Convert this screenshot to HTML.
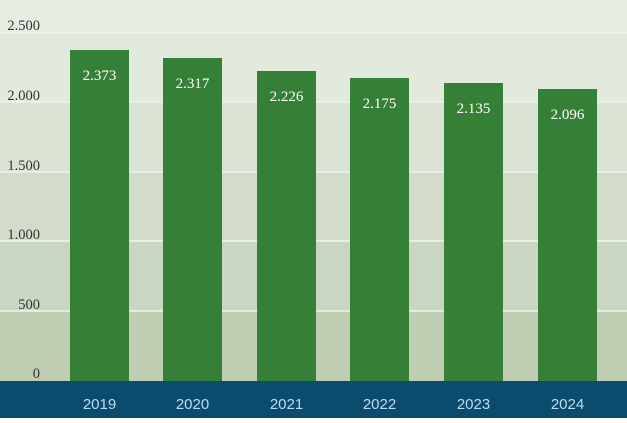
<!DOCTYPE html><html><head><style>body{margin:0}</style></head><body>
<svg width="627" height="418" xmlns="http://www.w3.org/2000/svg" font-family="Liberation Serif, serif">
<rect x="0" y="0" width="627" height="33" fill="#e8ede4"/>
<rect x="0" y="33" width="627" height="69" fill="#e2e9dd"/>
<rect x="0" y="102" width="627" height="70" fill="#dbe3d4"/>
<rect x="0" y="172" width="627" height="69" fill="#d3dccb"/>
<rect x="0" y="241" width="627" height="70" fill="#cbd6c2"/>
<rect x="0" y="311" width="627" height="70" fill="#bfcdb2"/>
<g stroke="#f0f3ec" stroke-width="1.5">
<line x1="0" x2="627" y1="33" y2="33"/><line x1="0" x2="627" y1="102" y2="102"/><line x1="0" x2="627" y1="172" y2="172"/><line x1="0" x2="627" y1="241" y2="241"/><line x1="0" x2="627" y1="311" y2="311"/></g>
<g font-size="14.5" fill="#333" text-anchor="end">
<text x="40" y="30">2.500</text><text x="40" y="100">2.000</text><text x="40" y="170">1.500</text><text x="40" y="239">1.000</text><text x="40" y="309">500</text><text x="40" y="378">0</text></g>
<g fill="#367f37">
<rect x="70" y="50" width="59" height="331"/><rect x="163" y="58" width="59" height="323"/><rect x="257" y="71" width="59" height="310"/><rect x="350" y="78" width="59" height="303"/><rect x="444" y="83" width="59" height="298"/><rect x="538" y="89" width="59" height="292"/></g>
<g font-size="15" fill="#fff" text-anchor="middle">
<text x="99.5" y="80">2.373</text><text x="192.5" y="88">2.317</text><text x="286.5" y="101">2.226</text><text x="379.5" y="108">2.175</text><text x="473.5" y="113">2.135</text><text x="567.5" y="119">2.096</text></g>
<rect x="0" y="381" width="627" height="37" fill="#0b4b6e"/>
<g font-size="15" fill="#b9dcef" text-anchor="middle" font-family="Liberation Sans, sans-serif">
<text x="99.5" y="409">2019</text><text x="192.5" y="409">2020</text><text x="286.5" y="409">2021</text><text x="379.5" y="409">2022</text><text x="473.5" y="409">2023</text><text x="567.5" y="409">2024</text></g>
</svg></body></html>
